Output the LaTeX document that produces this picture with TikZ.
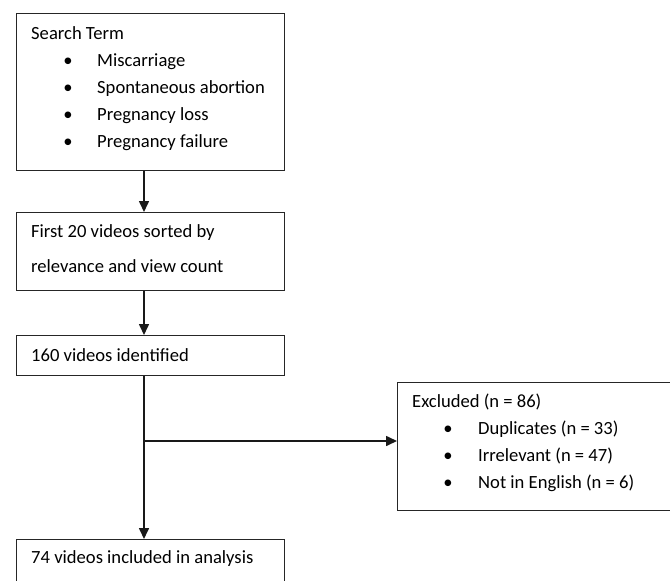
\documentclass[tikz,border=0pt]{standalone}
\usepackage{fontspec}
\setmainfont{Carlito}
\usetikzlibrary{arrows.meta}
\begin{document}
\begin{tikzpicture}[x=1pt,y=-1pt,
  box/.style={draw=black!85,line width=1pt,rectangle,inner sep=0pt,anchor=north west},
  txt/.style={anchor=base west,inner sep=0pt,font=\fontsize{18.6}{22}\selectfont},
  bul/.style={anchor=base,inner sep=0pt,font=\fontsize{18.6}{22}\selectfont},
  conn/.style={line width=1.6pt,black!90},
  arr/.style={conn,-{Triangle[length=11pt,width=10pt]}}]
\clip (0,0) rectangle (670,581);
\useasboundingbox (0,0) rectangle (670,581);
% boxes
\node[box,minimum width=268pt,minimum height=157pt] (b1) at (16,13) {};
\node[box,minimum width=268pt,minimum height=78pt] (b2) at (16,212) {};
\node[box,minimum width=268pt,minimum height=40pt] (b3) at (16,335) {};
\node[box,minimum width=268pt,minimum height=80pt] (b4) at (16,539) {};
\node[box,minimum width=320pt,minimum height=128pt] (ex) at (397,382) {};
% texts box 1
\node[txt] (t1) at (31,39) {Search Term};
\node[bul] (d1) at (68,66) {•};
\node[txt] (t2) at (97,66) {Miscarriage};
\node[bul] (d2) at (68,93) {•};
\node[txt] (t3) at (97,93) {Spontaneous abortion};
\node[bul] (d3) at (68,120) {•};
\node[txt] (t4) at (97,120) {Pregnancy loss};
\node[bul] (d4) at (68,147) {•};
\node[txt] (t5) at (97,147) {Pregnancy failure};
% box 2
\node[txt] (t6) at (31,237) {First 20 videos sorted by};
\node[txt] (t7) at (31,272) {relevance and view count};
% box 3
\node[txt] (t8) at (31,361) {160 videos identified};
% box 4
\node[txt] (t9) at (31,563) {74 videos included in analysis};
% excluded
\node[txt] (e1) at (412,407) {Excluded (n = 86)};
\node[bul] (f1) at (448,434) {•};
\node[txt] (e2) at (478,434) {Duplicates (n = 33)};
\node[bul] (f2) at (448,461) {•};
\node[txt] (e3) at (478,461) {Irrelevant (n = 47)};
\node[bul] (f3) at (448,488) {•};
\node[txt] (e4) at (478,488) {Not in English (n = 6)};
% connectors
\coordinate (j) at (144,441);
\draw[arr] (b1.south -| 144,0) -- (b2.north -| 144,0);
\draw[arr] (b2.south -| 144,0) -- (b3.north -| 144,0);
\draw[arr] (b3.south -| 144,0) -- (b4.north -| 144,0);
\draw[arr] (j) -- (j -| ex.west);
\end{tikzpicture}
\end{document}
